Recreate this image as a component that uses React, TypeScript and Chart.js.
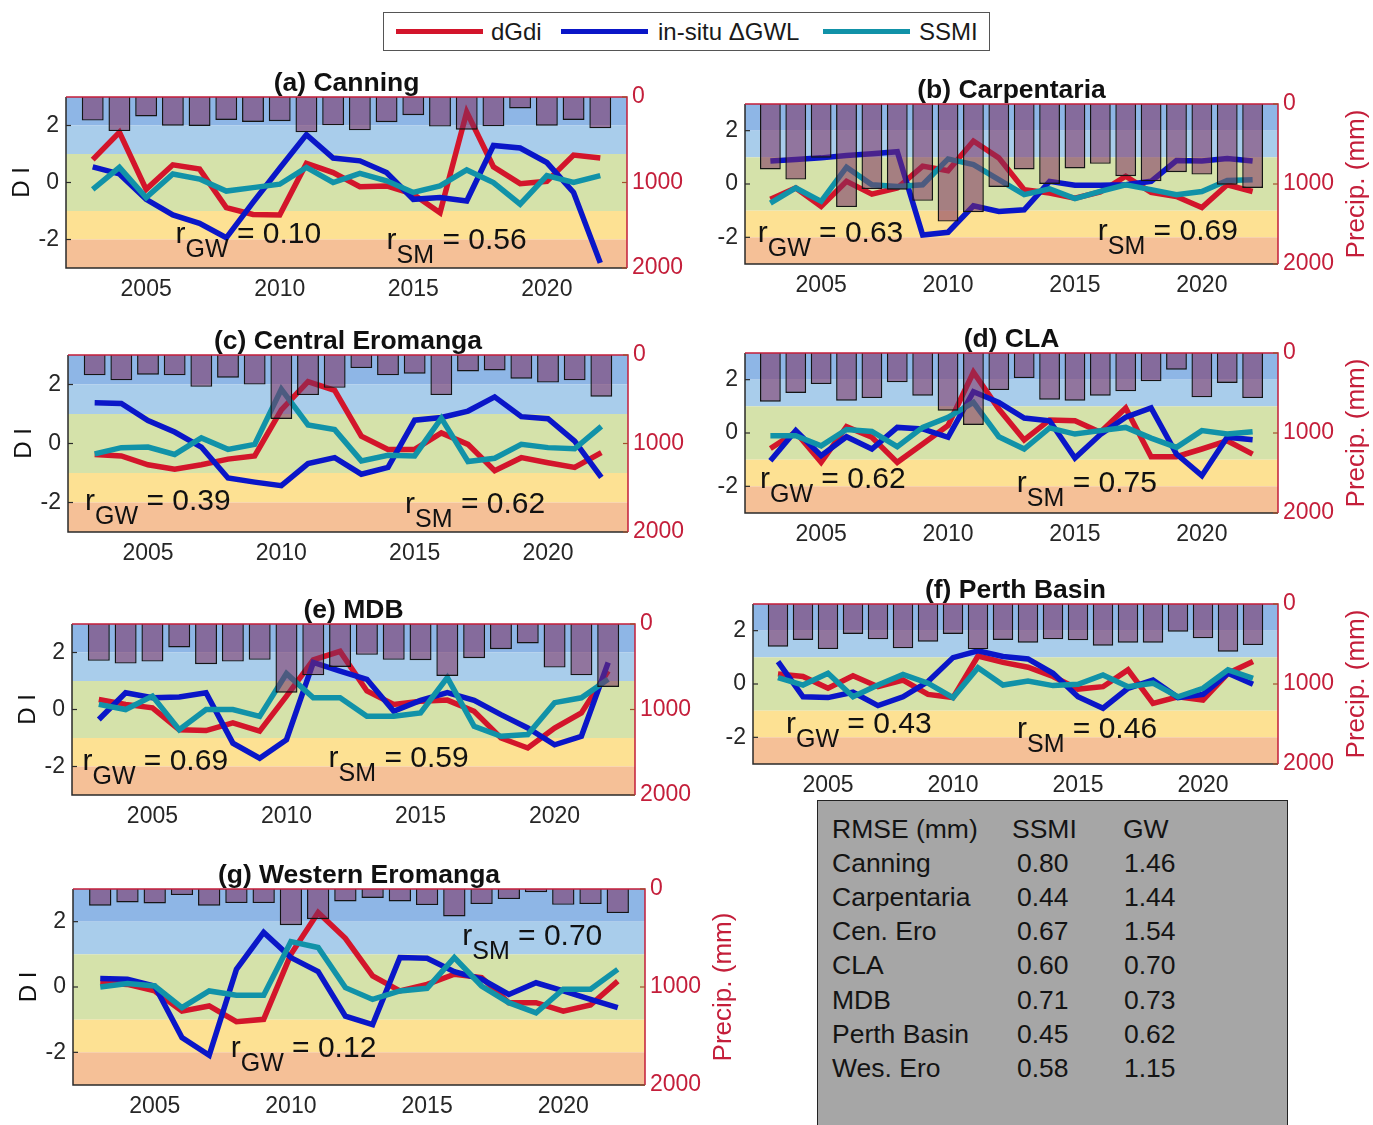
import React, { useEffect, useRef } from "react";
import { Chart, registerables } from "chart.js";

Chart.register(...registerables);

// ---------- data ----------
const years = [2003, 2004, 2005, 2006, 2007, 2008, 2009, 2010, 2011, 2012, 2013, 2014, 2015, 2016, 2017, 2018, 2019, 2020, 2021, 2022];
const xTicks = [2005, 2010, 2015, 2020];
const diTicks = [-2, 0, 2];
const precipTicks = [0, 1000, 2000];

const canningDgdi = [0.8, 1.76, -0.24, 0.62, 0.47, -0.88, -1.12, -1.14, 0.67, 0.35, -0.15, -0.12, -0.41, -1.06, 2.47, 0.55, -0.04, 0.04, 0.96, 0.86];
const canningGwl = [0.55, 0.3, -0.59, -1.14, -1.43, -1.94, -0.7, 0.5, 1.68, 0.86, 0.76, 0.35, -0.59, -0.53, -0.65, 1.3, 1.21, 0.7, -0.35, -2.82];
const canningSsmi = [-0.24, 0.53, -0.53, 0.3, 0.12, -0.3, -0.18, -0.06, 0.53, 0.0, 0.32, 0.06, -0.35, -0.12, 0.44, 0.0, -0.76, 0.24, 0.0, 0.24];
const canningPrecip = [276, 398, 228, 335, 339, 268, 291, 283, 413, 331, 390, 295, 213, 346, 382, 343, 134, 335, 268, 366];

const carpDgdi = [-0.57, -0.15, -0.84, 0.1, -0.38, -0.15, 0.67, 0.5, 1.61, 0.98, -0.21, -0.34, -0.53, -0.3, 0.29, -0.31, -0.47, -0.88, -0.03, -0.28];
const carpGwl = [0.86, 0.92, 0.98, 1.07, 1.13, 1.21, -1.91, -1.81, -0.82, -1.03, -0.97, 0.1, -0.05, -0.05, -0.03, 0.1, 0.88, 0.86, 0.96, 0.86];
const carpSsmi = [-0.72, -0.15, -0.65, 0.63, -0.03, -0.09, -0.03, 0.94, 0.73, 0.16, -0.4, -0.18, -0.55, -0.28, -0.03, -0.21, -0.4, -0.28, 0.13, 0.16];
const carpPrecip = [819, 945, 672, 1289, 1063, 1071, 1210, 1470, 1352, 1037, 819, 1000, 806, 748, 903, 966, 853, 882, 1008, 1050];

const cenEroDgdi = [-0.37, -0.42, -0.72, -0.87, -0.72, -0.53, -0.42, 1.14, 2.1, 1.8, 0.25, -0.2, -0.2, 0.36, -0.03, -0.92, -0.48, -0.65, -0.81, -0.31];
const cenEroGwl = [1.38, 1.36, 0.78, 0.39, -0.12, -1.17, -1.31, -1.43, -0.68, -0.48, -1.04, -0.81, 0.79, 0.88, 1.1, 1.58, 0.91, 0.84, 0.08, -1.15];
const cenEroSsmi = [-0.35, -0.14, -0.12, -0.37, 0.19, -0.2, -0.03, 1.84, 0.63, 0.47, -0.59, -0.4, -0.42, 0.86, -0.61, -0.5, -0.03, -0.14, -0.18, 0.58];
const cenEroPrecip = [230, 286, 223, 230, 360, 256, 334, 723, 453, 371, 148, 230, 211, 453, 186, 174, 267, 312, 286, 471];

const claDgdi = [-0.58, 0.03, -1.1, 0.24, -0.16, -1.1, -0.41, 0.28, 2.28, 0.9, -0.26, 0.49, 0.46, 0.03, 0.94, -0.89, -0.89, -0.6, -0.29, -0.79];
const claGwl = [-1.04, 0.09, -0.85, -0.14, -0.6, 0.21, 0.15, -0.16, 1.55, 1.15, 0.56, 0.46, -0.94, -0.06, 0.59, 0.94, -0.79, -1.6, -0.16, -0.25];
const claSsmi = [-0.1, -0.1, -0.48, 0.13, 0.06, -0.51, 0.21, 0.59, 1.15, -0.14, -0.6, 0.19, -0.04, 0.09, 0.21, -0.19, -0.54, 0.09, -0.04, 0.05];
const claPrecip = [608, 500, 388, 596, 563, 367, 533, 721, 900, 463, 313, 583, 596, 533, 479, 354, 208, 554, 375, 563];

const mdbDgdi = [0.35, 0.18, 0.06, -0.71, -0.74, -0.47, -0.76, 0.47, 1.74, 2.04, 0.65, 0.18, 0.29, 0.33, -0.06, -1.0, -1.35, -0.65, -0.12, 1.35];
const mdbGwl = [-0.35, 0.59, 0.41, 0.44, 0.59, -1.18, -1.71, -1.06, 1.65, 1.35, 1.06, -0.06, 0.32, 0.59, 0.32, -0.18, -0.65, -1.24, -0.94, 1.65];
const mdbSsmi = [0.18, 0.0, 0.47, -0.71, 0.0, 0.0, -0.24, 1.26, 0.41, 0.41, -0.24, -0.24, -0.12, 1.12, -0.59, -0.94, -0.88, 0.24, 0.41, 1.06];
const mdbPrecip = [431, 463, 439, 274, 470, 439, 419, 804, 600, 502, 361, 419, 423, 608, 400, 294, 227, 510, 600, 737];

const perthDgdi = [0.38, 0.28, -0.16, 0.31, -0.1, 0.15, -0.39, -0.51, 1.05, 0.81, 0.63, 0.28, -0.19, -0.1, 0.53, -0.73, -0.48, -0.6, 0.4, 0.84];
const perthGwl = [0.84, -0.48, -0.51, -0.31, -0.81, -0.48, 0.09, 0.99, 1.24, 1.03, 0.94, 0.4, -0.48, -0.91, -0.16, 0.15, -0.51, -0.39, 0.4, -0.01];
const perthSsmi = [0.24, -0.04, 0.4, -0.48, -0.04, 0.36, 0.03, -0.51, 0.61, -0.04, 0.11, -0.06, -0.01, 0.34, -0.1, 0.03, -0.48, -0.16, 0.53, 0.21];
const perthPrecip = [533, 450, 563, 375, 442, 554, 471, 375, 567, 450, 483, 442, 454, 521, 483, 483, 346, 429, 596, 513];

const wesEroDgdi = [0.13, 0.08, -0.12, -0.74, -0.58, -1.06, -0.99, 1.0, 2.28, 1.49, 0.34, -0.12, 0.08, 0.39, 0.29, -0.48, -0.48, -0.74, -0.55, 0.18];
const wesEroGwl = [0.26, 0.24, 0.03, -1.55, -2.09, 0.54, 1.67, 0.9, 0.47, -0.89, -1.15, 0.9, 0.88, 0.47, 0.24, -0.23, 0.13, -0.12, -0.38, -0.63];
const wesEroSsmi = [0.0, 0.11, 0.03, -0.63, -0.12, -0.25, -0.25, 1.39, 1.21, -0.02, -0.38, -0.12, -0.04, 0.9, 0.03, -0.48, -0.79, -0.07, -0.07, 0.54];
const wesEroPrecip = [171, 137, 147, 62, 171, 144, 144, 369, 308, 127, 92, 127, 164, 280, 154, 103, 34, 161, 154, 246];

const panelTitles = ["(a) Canning", "(b) Carpentaria", "(c) Central Eromanga", "(d) CLA", "(e) MDB", "(f) Perth Basin", "(g) Western Eromanga"];
const rGw = ["0.10", "0.63", "0.39", "0.62", "0.69", "0.43", "0.12"];
const rSm = ["0.56", "0.69", "0.62", "0.75", "0.59", "0.46", "0.70"];

const rmseRegions = ["Canning", "Carpentaria", "Cen. Ero", "CLA", "MDB", "Perth Basin", "Wes. Ero"];
const rmseSsmi = ["0.80", "0.44", "0.67", "0.60", "0.71", "0.45", "0.58"];
const rmseGw = ["1.46", "1.44", "1.54", "0.70", "0.73", "0.62", "1.15"];

// ---------- styling ----------
const FONT = '"Liberation Sans", Arial, Helvetica, sans-serif';
const RED = "#d3152b";
const BLUE = "#0a16c8";
const TEAL = "#1192a8";
const AXIS_RED = "#c41e3a";
const TEXT = "#262626";
const BAR_FILL = "rgba(125,45,95,0.55)";
const LINE_W = 5.5;

// drought-index classes shaded behind each panel
const bands = [
  { from: 2, to: 3, color: "#8eb6e6" },
  { from: 1, to: 2, color: "#a9cdeb" },
  { from: -1, to: 1, color: "#d5e2aa" },
  { from: -2, to: -1, color: "#fde193" },
  { from: -3, to: -2, color: "#f5c097" },
];

// margins around each plotting area inside its canvas
const ML = 60;
const MR = 92;
const MT = 40;
const MB = 40;

type Note = { x: number; y: number; sub: string; val: string };
type PanelSpec = {
  title: string;
  box: [number, number, number, number]; // left, top, right, bottom (page px)
  dgdi: number[];
  gwl: number[];
  ssmi: number[];
  precip: number[];
  diLabel: boolean;
  precipLabel: boolean;
  notes: Note[];
};

const panels: PanelSpec[] = [
  { title: panelTitles[0], box: [66, 97, 627, 268], dgdi: canningDgdi, gwl: canningGwl, ssmi: canningSsmi, precip: canningPrecip, diLabel: true, precipLabel: false,
    notes: [{ x: 2006.1, y: -2.14, sub: "GW", val: rGw[0] }, { x: 2014.0, y: -2.32, sub: "SM", val: rSm[0] }] },
  { title: panelTitles[1], box: [745, 104, 1278, 264], dgdi: carpDgdi, gwl: carpGwl, ssmi: carpSsmi, precip: carpPrecip, diLabel: false, precipLabel: true,
    notes: [{ x: 2002.5, y: -2.17, sub: "GW", val: rGw[1] }, { x: 2015.9, y: -2.09, sub: "SM", val: rSm[1] }] },
  { title: panelTitles[2], box: [68, 355, 628, 532], dgdi: cenEroDgdi, gwl: cenEroGwl, ssmi: cenEroSsmi, precip: cenEroPrecip, diLabel: true, precipLabel: false,
    notes: [{ x: 2002.64, y: -2.27, sub: "GW", val: rGw[2] }, { x: 2014.64, y: -2.34, sub: "SM", val: rSm[2] }] },
  { title: panelTitles[3], box: [745, 353, 1278, 513], dgdi: claDgdi, gwl: claGwl, ssmi: claSsmi, precip: claPrecip, diLabel: false, precipLabel: true,
    notes: [{ x: 2002.59, y: -2.06, sub: "GW", val: rGw[3] }, { x: 2012.71, y: -2.2, sub: "SM", val: rSm[3] }] },
  { title: panelTitles[4], box: [72, 624, 635, 795], dgdi: mdbDgdi, gwl: mdbGwl, ssmi: mdbSsmi, precip: mdbPrecip, diLabel: true, precipLabel: false,
    notes: [{ x: 2002.39, y: -2.14, sub: "GW", val: rGw[4] }, { x: 2011.57, y: -2.0, sub: "SM", val: rSm[4] }] },
  { title: panelTitles[5], box: [753, 604, 1278, 764], dgdi: perthDgdi, gwl: perthGwl, ssmi: perthSsmi, precip: perthPrecip, diLabel: false, precipLabel: true,
    notes: [{ x: 2003.32, y: -1.83, sub: "GW", val: rGw[5] }, { x: 2012.56, y: -2.02, sub: "SM", val: rSm[5] }] },
  { title: panelTitles[6], box: [73, 889, 645, 1085], dgdi: wesEroDgdi, gwl: wesEroGwl, ssmi: wesEroSsmi, precip: wesEroPrecip, diLabel: true, precipLabel: true,
    notes: [{ x: 2007.79, y: -2.14, sub: "GW", val: rGw[6] }, { x: 2016.29, y: 1.28, sub: "SM", val: rSm[6] }] },
];

const bandPlugin = {
  id: "diBands",
  beforeDatasetsDraw(chart: any) {
    const { ctx, chartArea } = chart;
    const ys = chart.scales.y;
    ctx.save();
    for (const b of bands) {
      const yTop = ys.getPixelForValue(b.to);
      const yBot = ys.getPixelForValue(b.from);
      ctx.fillStyle = b.color;
      ctx.fillRect(chartArea.left, yTop, chartArea.right - chartArea.left, yBot - yTop);
    }
    ctx.restore();
  },
};

function decorPlugin(spec: PanelSpec) {
  return {
    id: "panelDecor",
    afterDatasetsDraw(chart: any) {
      const { ctx, chartArea } = chart;
      const { left, right, top, bottom } = chartArea;
      const xs = chart.scales.x;
      const ys = chart.scales.y;
      const y2 = chart.scales.y2;
      ctx.save();
      // axes frame
      ctx.lineWidth = 1.5;
      ctx.strokeStyle = "#2a2a2a";
      ctx.beginPath();
      ctx.moveTo(left, top);
      ctx.lineTo(left, bottom);
      ctx.lineTo(right, bottom);
      ctx.stroke();
      ctx.strokeStyle = AXIS_RED;
      ctx.beginPath();
      ctx.moveTo(left, top);
      ctx.lineTo(right, top);
      ctx.lineTo(right, bottom);
      ctx.stroke();
      // inward tick marks
      ctx.lineWidth = 1.2;
      ctx.strokeStyle = "#2a2a2a";
      for (const v of diTicks) {
        const p = ys.getPixelForValue(v);
        ctx.beginPath();
        ctx.moveTo(left, p);
        ctx.lineTo(left + 5, p);
        ctx.stroke();
      }
      ctx.strokeStyle = "#a0522d";
      for (const v of precipTicks) {
        const p = y2.getPixelForValue(v);
        ctx.beginPath();
        ctx.moveTo(right, p);
        ctx.lineTo(right - 5, p);
        ctx.stroke();
      }
      // correlation notes
      ctx.fillStyle = "#111";
      ctx.textBaseline = "alphabetic";
      ctx.textAlign = "left";
      for (const n of spec.notes) {
        const px = xs.getPixelForValue(n.x);
        const py = ys.getPixelForValue(n.y);
        ctx.font = `30px ${FONT}`;
        ctx.fillText("r", px, py);
        const wr = ctx.measureText("r").width;
        ctx.font = `25px ${FONT}`;
        ctx.fillText(n.sub, px + wr, py + 14);
        const ws = ctx.measureText(n.sub).width;
        ctx.font = `30px ${FONT}`;
        ctx.fillText(" = " + n.val, px + wr + ws, py);
      }
      // title
      ctx.font = `bold 26.5px ${FONT}`;
      ctx.textAlign = "center";
      ctx.fillStyle = "#111";
      ctx.fillText(spec.title, (left + right) / 2, top - 6);
      // axis titles
      const midY = (top + bottom) / 2;
      if (spec.diLabel) {
        ctx.save();
        ctx.translate(left - 44, midY);
        ctx.rotate(-Math.PI / 2);
        ctx.font = `24px ${FONT}`;
        ctx.fillStyle = "#111";
        ctx.textBaseline = "middle";
        ctx.fillText("D I", 0, 0);
        ctx.restore();
      }
      if (spec.precipLabel) {
        ctx.save();
        ctx.translate(right + 79, midY);
        ctx.rotate(-Math.PI / 2);
        ctx.font = `26px ${FONT}`;
        ctx.fillStyle = AXIS_RED;
        ctx.textBaseline = "middle";
        ctx.fillText("Precip. (mm)", 0, 0);
        ctx.restore();
      }
      ctx.restore();
    },
  };
}

function Panel({ spec }: { spec: PanelSpec }) {
  const ref = useRef<HTMLCanvasElement>(null);
  const [l, t, r, b] = spec.box;
  const w = ML + (r - l) + MR;
  const h = MT + (b - t) + MB;

  useEffect(() => {
    const canvas = ref.current;
    if (!canvas) return;
    const pts = (vals: number[]) => years.map((x, i) => ({ x, y: vals[i] }));
    const tickFont = { family: FONT, size: 23 };
    const chart = new Chart(canvas, {
      type: "line",
      data: {
        datasets: [
          {
            type: "bar",
            label: "Precip",
            data: pts(spec.precip),
            yAxisID: "y2",
            xAxisID: "x",
            backgroundColor: BAR_FILL,
            borderColor: "#151515",
            borderWidth: 1.4,
            barPercentage: 0.82,
            categoryPercentage: 1,
            order: 0,
          } as any,
          { type: "line", label: "SSMI", data: pts(spec.ssmi), yAxisID: "y", borderColor: TEAL, borderWidth: LINE_W, pointRadius: 0, tension: 0, order: 1 },
          { type: "line", label: "in-situ ΔGWL", data: pts(spec.gwl), yAxisID: "y", borderColor: BLUE, borderWidth: LINE_W, pointRadius: 0, tension: 0, order: 2 },
          { type: "line", label: "dGdi", data: pts(spec.dgdi), yAxisID: "y", borderColor: RED, borderWidth: LINE_W, pointRadius: 0, tension: 0, order: 3 },
        ],
      },
      options: {
        responsive: false,
        maintainAspectRatio: false,
        animation: false,
        devicePixelRatio: 1,
        events: [],
        layout: { padding: { top: MT, left: 0, right: 0, bottom: 0 } },
        plugins: { legend: { display: false }, tooltip: { enabled: false }, title: { display: false } },
        scales: {
          x: {
            type: "linear",
            min: 2002,
            max: 2023,
            offset: false,
            grid: { display: false, drawTicks: false },
            border: { display: false },
            afterBuildTicks: (s: any) => {
              s.ticks = xTicks.map((value) => ({ value }));
            },
            afterFit: (s: any) => {
              s.height = MB;
            },
            ticks: { padding: 8, font: tickFont, color: TEXT, autoSkip: false, maxRotation: 0, callback: (v: any) => String(v) },
          },
          y: {
            type: "linear",
            position: "left",
            min: -3,
            max: 3,
            grid: { display: false, drawTicks: false },
            border: { display: false },
            afterBuildTicks: (s: any) => {
              s.ticks = diTicks.map((value) => ({ value }));
            },
            afterFit: (s: any) => {
              s.width = ML;
            },
            ticks: { padding: 7, font: tickFont, color: TEXT, autoSkip: false, callback: (v: any) => String(v) },
          },
          y2: {
            type: "linear",
            position: "right",
            min: 0,
            max: 2000,
            reverse: true,
            grid: { display: false, drawTicks: false },
            border: { display: false },
            afterBuildTicks: (s: any) => {
              s.ticks = precipTicks.map((value) => ({ value }));
            },
            afterFit: (s: any) => {
              s.width = MR;
            },
            ticks: { padding: 5, font: tickFont, color: AXIS_RED, autoSkip: false, callback: (v: any) => String(v) },
          },
        },
      } as any,
      plugins: [bandPlugin, decorPlugin(spec)],
    });
    return () => chart.destroy();
  }, [spec]);

  return (
    <canvas
      ref={ref}
      width={w}
      height={h}
      style={{ position: "absolute", left: l - ML, top: t - MT, width: w, height: h }}
    />
  );
}

function Legend() {
  const items = [
    { label: "dGdi", color: RED, lineX: 12, textX: 107 },
    { label: "in-situ ΔGWL", color: BLUE, lineX: 177, textX: 274 },
    { label: "SSMI", color: TEAL, lineX: 439, textX: 535 },
  ];
  return (
    <div
      style={{
        position: "absolute",
        left: 383,
        top: 12,
        width: 607,
        height: 39,
        border: "1.5px solid #555",
        background: "#fff",
        boxSizing: "border-box",
        fontFamily: FONT,
        fontSize: 24,
        color: "#1a1a1a",
      }}
    >
      {items.map((it) => (
        <React.Fragment key={it.label}>
          <div style={{ position: "absolute", left: it.lineX, top: 16, width: 87, height: 5, background: it.color }} />
          <div style={{ position: "absolute", left: it.textX, top: 2, lineHeight: "34px", whiteSpace: "nowrap" }}>{it.label}</div>
        </React.Fragment>
      ))}
    </div>
  );
}

function RmseTable() {
  const rowH = 34.1;
  const first = 13;
  const cell = (text: string, x: number, row: number) => (
    <div key={`${text}-${x}-${row}`} style={{ position: "absolute", left: x, top: first + row * rowH, lineHeight: "30px", whiteSpace: "nowrap" }}>
      {text}
    </div>
  );
  return (
    <div
      style={{
        position: "absolute",
        left: 817,
        top: 800,
        width: 471,
        height: 340,
        background: "#a6a6a6",
        border: "1.5px solid #222",
        boxSizing: "border-box",
        fontFamily: FONT,
        fontSize: 26.5,
        color: "#141414",
      }}
    >
      {cell("RMSE (mm)", 14, 0)}
      {cell("SSMI", 194, 0)}
      {cell("GW", 305, 0)}
      {rmseRegions.map((name, i) => (
        <React.Fragment key={name}>
          {cell(name, 14, i + 1)}
          {cell(rmseSsmi[i], 199, i + 1)}
          {cell(rmseGw[i], 306, i + 1)}
        </React.Fragment>
      ))}
    </div>
  );
}

export default function App() {
  return (
    <div
      style={{
        position: "absolute",
        left: 0,
        top: 0,
        width: 1373,
        height: 1125,
        overflow: "hidden",
        background: "#fff",
      }}
    >
      <Legend />
      {panels.map((p) => (
        <Panel key={p.title} spec={p} />
      ))}
      <RmseTable />
    </div>
  );
}
